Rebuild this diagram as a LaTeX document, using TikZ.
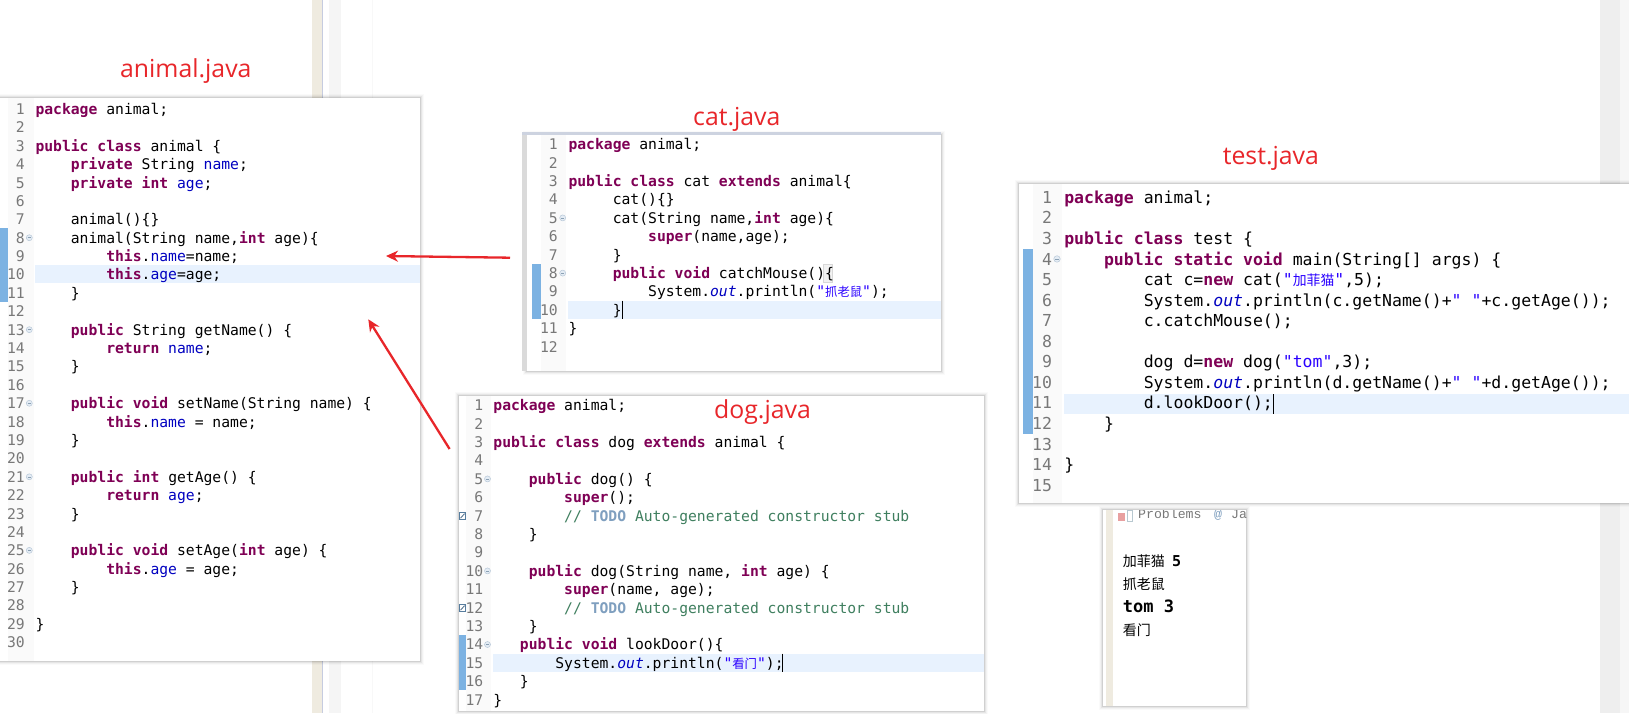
\documentclass[tikz,border=0pt]{standalone}
\usepackage{fontspec}
\setmainfont{Open Sans}
\newfontfamily\codefont{DejaVu Sans Mono}
\newfontfamily\cjkfont{Noto Sans CJK SC}
\newfontfamily\probfont{Liberation Mono}
\usetikzlibrary{arrows.meta}
\definecolor{kwc}{HTML}{7F0055}
\definecolor{fldc}{HTML}{0000C0}
\definecolor{strc}{HTML}{2A00FF}
\definecolor{cmtc}{HTML}{3F7F5F}
\definecolor{todoc}{HTML}{7F9FBF}
\definecolor{numc}{HTML}{787878}
\definecolor{linehl}{HTML}{E8F2FE}
\definecolor{barc}{HTML}{7CB2E2}
\definecolor{gutc}{HTML}{FAFAFA}
\definecolor{beigec}{HTML}{EFEBE0}
\definecolor{labelc}{HTML}{E8262A}
\definecolor{foldline}{HTML}{B8C8D8}
\definecolor{foldfill}{HTML}{E4ECF4}
\definecolor{folddash}{HTML}{8AA0B4}
\definecolor{stripeA}{HTML}{C6CCE0}
\definecolor{stripeB}{HTML}{F5F5F5}
\definecolor{stripeC}{HTML}{F8F8F8}
\definecolor{stripeD}{HTML}{EEEEEE}
\definecolor{stripeE}{HTML}{F6F6F6}
\definecolor{edgeA}{HTML}{DADADA}
\definecolor{edgeB}{HTML}{CDD3E0}
\definecolor{brackline}{HTML}{D8D8D8}
\definecolor{brackfill}{HTML}{F2F2F2}
\definecolor{iconred}{HTML}{E8A0A0}
\definecolor{iconblue}{HTML}{B8C8D0}
\newcommand\jk[1]{\textcolor{kwc}{\bfseries #1}}
\newcommand\jf[1]{\textcolor{fldc}{#1}}
\newcommand\js[1]{\textcolor{strc}{#1}}
\newcommand\jo[1]{\textcolor{fldc}{\itshape #1}}
\newcommand\jc[1]{\textcolor{cmtc}{#1}}
\newcommand\jt[1]{\textcolor{todoc}{\bfseries #1}}
\newcommand\jcjk[1]{{\cjkfont\fontsize{\cjksz}{\cjksz}\selectfont #1}}
% panel parameters: prefix, first-line centre, line step, code x, number right edge, size
\newcommand\setpanel[6]{\def\pfx{#1}\def\pone{#2}\def\pstep{#3}\def\pcode{#4}\def\pnum{#5}%
  \def\codesz{#6}\pgfmathsetmacro\cjksz{#6*0.84}\pgfmathsetmacro\pcol{#6*0.602}\pgfmathsetmacro\pbase{#6*0.37}}
\newcommand\lineY[1]{\pgfmathsetmacro\ly{\pone+(#1-1)*\pstep}}
% number only
\newcommand\numln[1]{\lineY{#1}%
  \node[numtxt,font=\codefont\fontsize{\codesz}{\codesz}\selectfont] (\pfx-n#1) at (\pnum,\ly+\pbase) {#1};}
% number + code: {n}{indent}{code}
\newcommand\codeln[3]{\numln{#1}%
  \pgfmathsetmacro\lx{\pcode+#2*\pcol}%
  \node[codetxt,font=\codefont\fontsize{\codesz}{\codesz}\selectfont] (\pfx-c#1) at (\lx,\ly+\pbase) {#3};}
\newcommand\foldmark[2]{\lineY{#2}\node[foldm,minimum size=#1] (\pfx-f#2) at (\pfold,\ly) {};
  \draw[folddash,line width=.6pt] (\pfold-1.6,\ly) -- (\pfold+1.6,\ly);}
\newcommand\panelbox[5]{% name x0 y0 x1 y1
  \pgfmathsetmacro\pw{#4-#2}\pgfmathsetmacro\ph{#5-#3}%
  \foreach \o/\a in {4/.02,3/.03,2/.05,1/.09}{
    \fill[black,opacity=\a] (#2-\o,#3-\o) rectangle (#4+\o,#5+\o);}
  \node[panelbg,minimum width=\pw pt,minimum height=\ph pt] (#1) at (#2,#3) {};}
\tikzset{
  numtxt/.style={anchor=base east,inner sep=0pt,text=numc},
  codetxt/.style={anchor=base west,inner sep=0pt,text=black},
  panelbg/.style={anchor=north west,fill=white,draw=none,inner sep=0pt,outer sep=0pt},
  foldm/.style={circle,draw=foldline,fill=foldfill,line width=.5pt,inner sep=0pt},
  titletxt/.style={anchor=base west,inner sep=0pt,text=labelc,font=\fontsize{24.8}{30}\selectfont},
  redarrow/.style={draw=labelc,line width=2.3pt,-{Stealth[length=12pt,width=11pt]}},
  hlbar/.style={fill=linehl,draw=none},
  rulerbar/.style={fill=barc,draw=none},
  gutter/.style={fill=gutc,draw=none},
  caret/.style={draw=black,line width=.9pt},
  outtxt/.style={anchor=base west,inner sep=0pt,text=black},
}
\begin{document}
\begin{tikzpicture}[x=1pt,y=-1pt]
\useasboundingbox (0,0) rectangle (1629,713);
\fill[white] (0,0) rectangle (1629,713);
% window background stripes
\fill[beigec] (312,0) rectangle (322,713);
\fill[stripeA] (322,0) rectangle (323,713);
\fill[stripeB] (329,0) rectangle (341,713);
\fill[stripeC] (372,0) rectangle (373,713);
\fill[stripeD] (1600,0) rectangle (1620,713);
\fill[stripeE] (1620,0) rectangle (1629,713);

% ---------- animal.java
\panelbox{animal}{-8}{98}{420}{661}
\fill[gutter] (8,98) rectangle (33.5,661);
\fill[rulerbar] (0,228) rectangle (8,301.5);
\fill[hlbar] (35,265.3) rectangle (420,283.3);
\setpanel{an}{109}{18.39}{35.3}{25}{14.7}
\def\pfold{29.3}
\codeln{1}{0}{\jk{package} animal;}
\numln{2}
\codeln{3}{0}{\jk{public} \jk{class} animal \{}
\codeln{4}{4}{\jk{private} String \jf{name};}
\codeln{5}{4}{\jk{private} \jk{int} \jf{age};}
\numln{6}
\codeln{7}{4}{animal()\{\}}
\codeln{8}{4}{animal(String name,\jk{int} age)\{}
\codeln{9}{8}{\jk{this}.\jf{name}=name;}
\codeln{10}{8}{\jk{this}.\jf{age}=age;}
\codeln{11}{4}{\}}
\numln{12}
\codeln{13}{4}{\jk{public} String getName() \{}
\codeln{14}{8}{\jk{return} \jf{name};}
\codeln{15}{4}{\}}
\numln{16}
\codeln{17}{4}{\jk{public} \jk{void} setName(String name) \{}
\codeln{18}{8}{\jk{this}.\jf{name} = name;}
\codeln{19}{4}{\}}
\numln{20}
\codeln{21}{4}{\jk{public} \jk{int} getAge() \{}
\codeln{22}{8}{\jk{return} \jf{age};}
\codeln{23}{4}{\}}
\numln{24}
\codeln{25}{4}{\jk{public} \jk{void} setAge(\jk{int} age) \{}
\codeln{26}{8}{\jk{this}.\jf{age} = age;}
\codeln{27}{4}{\}}
\numln{28}
\codeln{29}{0}{\}}
\numln{30}
\foldmark{6pt}{8}\foldmark{6pt}{13}\foldmark{6pt}{17}\foldmark{6pt}{21}\foldmark{6pt}{25}
\node[titletxt] (animal-title) at (120,77) {animal.java};

% ---------- cat.java
\panelbox{cat}{527}{135}{941}{371}
\fill[edgeA] (522,132) rectangle (527,371);
\fill[edgeB] (522,132) rectangle (941,135);
\fill[gutter] (540.7,135) rectangle (566,371);
\fill[rulerbar] (531.7,264) rectangle (540.7,318.7);
\fill[hlbar] (568.3,300.7) rectangle (941,318.7);
\setpanel{ct}{144.3}{18.4}{568.3}{558}{14.7}
\def\pfold{562.7}
\draw[brackline,fill=brackfill,line width=.6pt] (823,264.5) rectangle (832,282);
\codeln{1}{0}{\jk{package} animal;}
\numln{2}
\codeln{3}{0}{\jk{public} \jk{class} cat \jk{extends} animal\{}
\codeln{4}{5}{cat()\{\}}
\codeln{5}{5}{cat(String name,\jk{int} age)\{}
\codeln{6}{9}{\jk{super}(name,age);}
\codeln{7}{5}{\}}
\codeln{8}{5}{\jk{public} \jk{void} catchMouse()\{}
\codeln{9}{9}{System.\jo{out}.println(\js{"\jcjk{抓老鼠}"});}
\codeln{10}{5}{\}}
\codeln{11}{0}{\}}
\numln{12}
\foldmark{6pt}{5}\foldmark{6pt}{8}
\draw[caret] (622.3,300.7) -- (622.3,318.7);
\node[titletxt] (cat-title) at (693,125.7) {cat.java};

% ---------- dog.java
\panelbox{dog}{458.7}{395.7}{984}{711}
\fill[gutter] (466,395.7) rectangle (491,711);
\fill[rulerbar] (459.4,635) rectangle (465.8,690);
\fill[hlbar] (493.2,653.7) rectangle (984,671.7);
\setpanel{dg}{405.3}{18.4}{493.2}{483.4}{14.7}
\def\pfold{487.5}
\codeln{1}{0}{\jk{package} animal;}
\numln{2}
\codeln{3}{0}{\jk{public} \jk{class} dog \jk{extends} animal \{}
\numln{4}
\codeln{5}{4}{\jk{public} dog() \{}
\codeln{6}{8}{\jk{super}();}
\codeln{7}{8}{\jc{//} \jt{TODO} \jc{Auto-generated constructor stub}}
\codeln{8}{4}{\}}
\numln{9}
\codeln{10}{4}{\jk{public} dog(String name, \jk{int} age) \{}
\codeln{11}{8}{\jk{super}(name, age);}
\codeln{12}{8}{\jc{//} \jt{TODO} \jc{Auto-generated constructor stub}}
\codeln{13}{4}{\}}
\codeln{14}{3}{\jk{public} \jk{void} lookDoor()\{}
\codeln{15}{7}{System.\jo{out}.println(\js{"\jcjk{看门}"});}
\codeln{16}{3}{\}}
\codeln{17}{0}{\}}
\foldmark{6pt}{5}\foldmark{6pt}{10}\foldmark{6pt}{14}
\foreach \yy in {515.7,607.7}{
  \draw[barc!70!black,fill=white,line width=.7pt] (459.5,\yy-3.5) rectangle (465.5,\yy+4);
  \draw[barc!60!black,line width=.8pt] (460.5,\yy+2.5) -- (464.5,\yy-2);}
\draw[caret] (782.3,653.7) -- (782.3,671.7);
\node[titletxt] (dog-title) at (714,418.3) {dog.java};

% ---------- test.java
\panelbox{test}{1019}{184}{1640}{503}
\fill[gutter] (1033,184) rectangle (1062,503);
\fill[rulerbar] (1022.8,249) rectangle (1033.1,434.3);
\fill[hlbar] (1064,394) rectangle (1629,414);
\setpanel{ts}{197.3}{20.55}{1064.1}{1052.3}{16.5}
\def\pfold{1057}
\codeln{1}{0}{\jk{package} animal;}
\numln{2}
\codeln{3}{0}{\jk{public} \jk{class} test \{}
\codeln{4}{4}{\jk{public} \jk{static} \jk{void} main(String[] args) \{}
\codeln{5}{8}{cat c=\jk{new} cat(\js{"\jcjk{加菲猫}"},5);}
\codeln{6}{8}{System.\jo{out}.println(c.getName()+\js{" "}+c.getAge());}
\codeln{7}{8}{c.catchMouse();}
\numln{8}
\codeln{9}{8}{dog d=\jk{new} dog(\js{"tom"},3);}
\codeln{10}{8}{System.\jo{out}.println(d.getName()+\js{" "}+d.getAge());}
\codeln{11}{8}{d.lookDoor();}
\codeln{12}{4}{\}}
\numln{13}
\codeln{14}{0}{\}}
\numln{15}
\foldmark{6.5pt}{4}
\draw[caret] (1273,394) -- (1273,414);
\node[titletxt] (test-title) at (1222.6,164) {test.java};

% ---------- console
\panelbox{console}{1103}{510}{1246}{706}
\fill[beigec] (1106,510) rectangle (1112.7,706);
\begin{scope}
\clip (1103,510) rectangle (1246,530);
\fill[iconred] (1118,513) rectangle (1125,521);
\draw[iconblue,line width=.8pt] (1127,510) rectangle (1132,521);
\node[anchor=base west,inner sep=0pt,text=numc,font=\probfont\fontsize{13.2}{13}\selectfont] (prob) at (1138,518) {Problems};
\node[anchor=base west,inner sep=0pt,text=todoc,font=\probfont\fontsize{13.2}{13}\selectfont] (probat) at (1214,518) {@};
\node[anchor=base west,inner sep=0pt,text=numc,font=\probfont\fontsize{13.2}{13}\selectfont] (probja) at (1231,518) {Ja};
\end{scope}
\node[outtxt] (o1) at (1122.7,566) {\cjkfont\fontsize{14}{14}\selectfont 加菲猫};
\node[outtxt] (o1b) at (1172,566.5) {\codefont\bfseries\fontsize{15}{15}\selectfont 5};
\node[outtxt] (o2) at (1122.7,589) {\cjkfont\fontsize{14}{14}\selectfont 抓老鼠};
\node[outtxt] (o3) at (1122.7,612.5) {\codefont\bfseries\fontsize{17}{17}\selectfont tom 3};
\node[outtxt] (o4) at (1122.7,635.5) {\cjkfont\fontsize{14}{14}\selectfont 看门};

% ---------- arrows
\coordinate (a1from) at (510,257.7);
\coordinate (a1to) at (386,256);
\coordinate (a2from) at (449.6,449);
\coordinate (a2to) at (368.3,319.3);
\draw[redarrow] (a1from) -- (a1to);
\draw[redarrow] (a2from) -- (a2to);
\end{tikzpicture}
\end{document}
